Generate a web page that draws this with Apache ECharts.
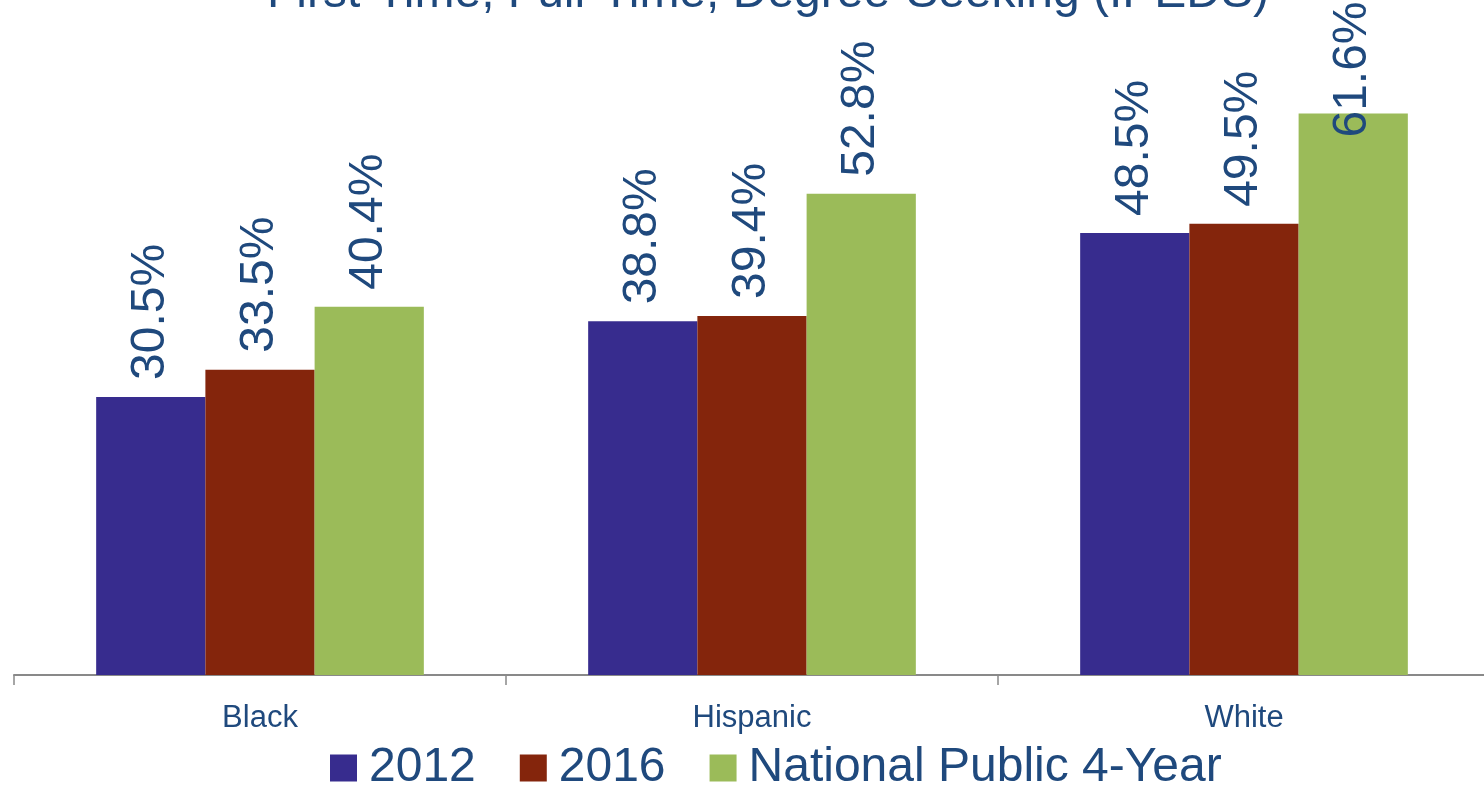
<!DOCTYPE html>
<html>
<head>
<meta charset="utf-8">
<script src="https://cdn.jsdelivr.net/npm/echarts@6/dist/echarts.min.js"></script>
<style>html,body{margin:0;padding:0;background:#fff}#c{width:1484px;height:785px}</style>
</head>
<body>
<div id="c"></div>
<script>
const categories = ['Black', 'Hispanic', 'White'];
const seriesNames = ['2012', '2016', 'National Public 4-Year'];
const values2012 = [30.5, 38.8, 48.5];
const values2016 = [33.5, 39.4, 49.5];
const valuesNational = [40.4, 52.8, 61.6];
const titleText = 'First-Time, Full-Time, Degree-Seeking (IPEDS)';

const colors = ['#372C8E', '#84250C', '#9BBB59'];
const textColor = '#1F497D';
const font = 'Liberation Sans, Arial, sans-serif';

const chart = echarts.init(document.getElementById('c'));
const labelCfg = {
  show: true,
  position: 'top',
  rotate: 90,
  align: 'left',
  verticalAlign: 'middle',
  distance: 17,
  color: textColor,
  fontSize: 48,
  fontFamily: font,
  formatter: p => p.value.toFixed(1) + '%'
};
function mk(name, vals, i) {
  return {
    name: name,
    type: 'bar',
    data: vals.map((v, j) => (v === 61.6 ? { value: v, label: { distance: -24 } } : v)),
    barGap: '0%',
    barCategoryGap: '33.4%',
    itemStyle: { color: colors[i] },
    label: labelCfg,
    emphasis: { disabled: true }
  };
}
chart.setOption({
  animation: false,
  title: {
    text: titleText,
    left: 262,
    top: -35,
    textStyle: { color: textColor, fontSize: 48, fontWeight: 'normal', fontFamily: font }
  },
  legend: {
    data: seriesNames,
    left: 330,
    top: 744,
    padding: 0,
    itemWidth: 27,
    itemHeight: 27,
    itemGap: 44,
    icon: 'rect',
    textStyle: { color: textColor, fontSize: 48, fontFamily: font, padding: [0, 0, 0, 7] }
  },
  grid: { left: 14, top: 37, width: 1476, bottom: 110, containLabel: false, outerBoundsMode: 'none' },
  xAxis: {
    type: 'category',
    data: categories,
    axisLine: { lineStyle: { color: '#898989', width: 2 } },
    axisTick: { show: true, length: 10, lineStyle: { color: '#898989', width: 1.5 } },
    axisLabel: { color: textColor, fontSize: 31, fontFamily: font, margin: 28 }
  },
  yAxis: { type: 'value', min: 0, max: 70, show: false, splitLine: { show: false } },
  series: [
    mk(seriesNames[0], values2012, 0),
    mk(seriesNames[1], values2016, 1),
    mk(seriesNames[2], valuesNational, 2)
  ]
});
</script>
</body>
</html>
